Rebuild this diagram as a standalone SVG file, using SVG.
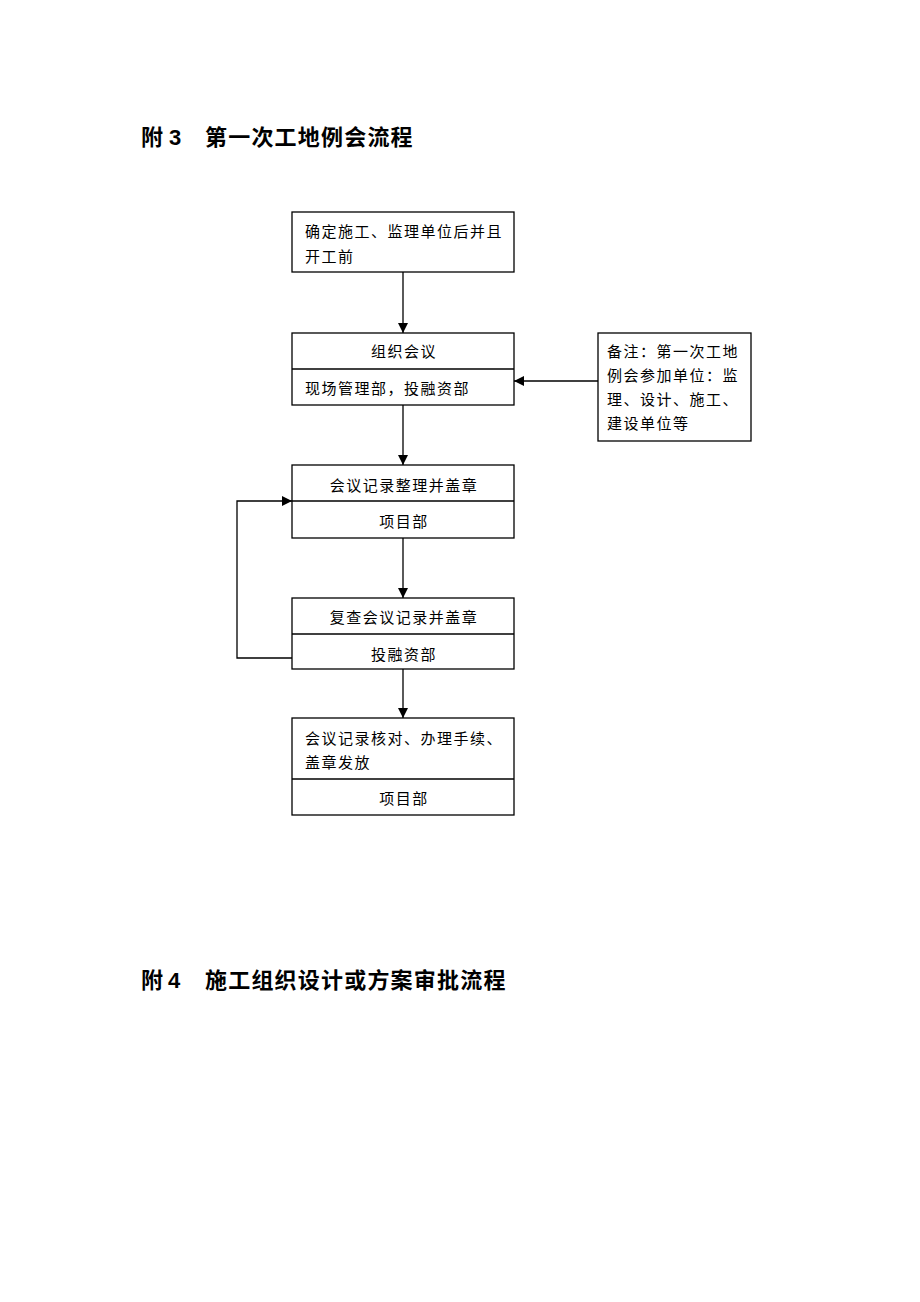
<svg xmlns="http://www.w3.org/2000/svg" width="920" height="1302" viewBox="0 0 920 1302">
<style>
.bg{fill:#fff}
.box{fill:#fff;stroke:#000;stroke-width:1.3}
.div{stroke:#000;stroke-width:1.3}
.t{font-family:"Noto Sans CJK SC","Liberation Sans",sans-serif;font-size:15px;fill:#000;letter-spacing:1.5px}
.c{text-anchor:middle}
.h{font-family:"Noto Sans CJK SC","Liberation Sans",sans-serif;font-size:22px;font-weight:bold;fill:#000;letter-spacing:1.2px}
.hn{font-family:"Liberation Sans",sans-serif;font-size:22px;font-weight:bold;fill:#000}
.ln{fill:none;stroke:#000;stroke-width:1.3}
</style>
<defs>
<marker id="ah" markerWidth="10" markerHeight="10" refX="10" refY="5" orient="auto" markerUnits="userSpaceOnUse">
<path d="M0,0 L10,5 L0,10 Z" fill="#000"/>
</marker>
</defs>
<rect class="bg" x="0" y="0" width="920" height="1302"/>
<g id="title3">
<text class="h" x="141" y="145">附</text>
<text class="hn" x="169" y="145">3</text>
<text class="h" x="205" y="145">第一次工地例会流程</text>
</g>
<g id="n1">
<rect class="box" x="292" y="212" width="222" height="60"/>
<text class="t" x="305" y="237">确定施工、监理单位后并且</text>
<text class="t" x="305" y="262">开工前</text>
</g>
<g id="n2">
<rect class="box" x="292" y="333" width="222" height="72"/>
<line class="div" x1="292" y1="369" x2="514" y2="369"/>
<text class="t c" x="404" y="357">组织会议</text>
<text class="t" x="305" y="394">现场管理部，投融资部</text>
</g>
<g id="note">
<rect class="box" x="598" y="333" width="153" height="108"/>
<text class="t" x="607" y="357">备注：第一次工地</text>
<text class="t" x="607" y="381">例会参加单位：监</text>
<text class="t" x="607" y="405">理、设计、施工、</text>
<text class="t" x="607" y="429">建设单位等</text>
</g>
<g id="n3">
<rect class="box" x="292" y="465" width="222" height="73"/>
<line class="div" x1="292" y1="501" x2="514" y2="501"/>
<text class="t c" x="404" y="491">会议记录整理并盖章</text>
<text class="t c" x="404" y="527">项目部</text>
</g>
<g id="n4">
<rect class="box" x="292" y="598" width="222" height="71"/>
<line class="div" x1="292" y1="634" x2="514" y2="634"/>
<text class="t c" x="404" y="623">复查会议记录并盖章</text>
<text class="t c" x="404" y="660">投融资部</text>
</g>
<g id="n5">
<rect class="box" x="292" y="718" width="222" height="97"/>
<line class="div" x1="292" y1="779" x2="514" y2="779"/>
<text class="t" x="305" y="744">会议记录核对、办理手续、</text>
<text class="t" x="305" y="768">盖章发放</text>
<text class="t c" x="404" y="804">项目部</text>
</g>
<g id="connectors">
<line class="ln" x1="403" y1="272" x2="403" y2="333" marker-end="url(#ah)"/>
<line class="ln" x1="598" y1="381" x2="514" y2="381" marker-end="url(#ah)"/>
<line class="ln" x1="403" y1="405" x2="403" y2="465" marker-end="url(#ah)"/>
<line class="ln" x1="403" y1="538" x2="403" y2="598" marker-end="url(#ah)"/>
<line class="ln" x1="403" y1="669" x2="403" y2="718" marker-end="url(#ah)"/>
<polyline class="ln" points="292,658 237,658 237,501 292,501" marker-end="url(#ah)"/>
</g>
<g id="title4">
<text class="h" x="141" y="988">附</text>
<text class="hn" x="168" y="988">4</text>
<text class="h" x="205" y="988">施工组织设计或方案审批流程</text>
</g>
</svg>
